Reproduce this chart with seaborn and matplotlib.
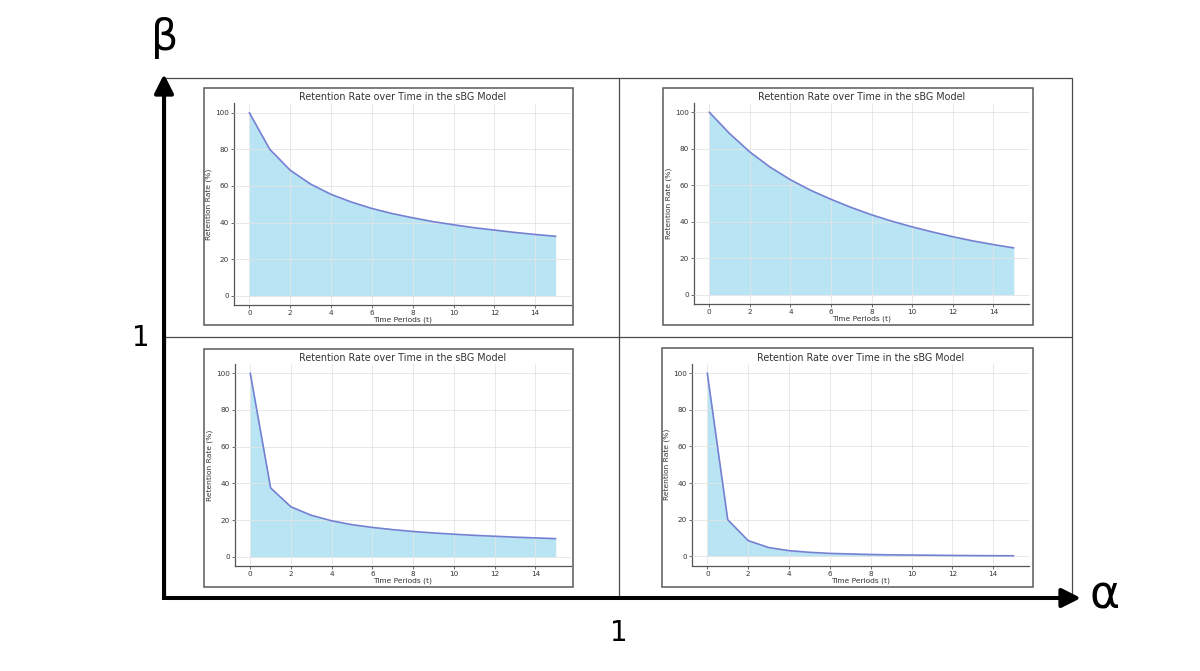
import numpy as np
import pandas as pd
import matplotlib
matplotlib.use("Agg")
import matplotlib.pyplot as plt
import seaborn as sns
from matplotlib.patches import Rectangle

# ---------------- data ----------------
periods = [0, 1, 2, 3, 4, 5, 6, 7, 8, 9, 10, 11, 12, 13, 14, 15]
retention_top_left = [100, 80.0, 68.6, 61.0, 55.4, 51.2, 47.7, 44.9, 42.6, 40.5, 38.8, 37.2, 35.9, 34.6, 33.5, 32.5]
retention_top_right = [100, 88.3, 78.2, 69.9, 63.0, 57.2, 52.3, 47.8, 43.8, 40.3, 37.2, 34.4, 31.8, 29.5, 27.5, 25.7]
retention_bottom_left = [100, 37.5, 27.2, 22.6, 19.6, 17.5, 16.0, 14.8, 13.8, 13.0, 12.3, 11.7, 11.2, 10.7, 10.3, 9.9]
retention_bottom_right = [100, 20.0, 8.6, 4.8, 3.1, 2.2, 1.6, 1.3, 1.0, 0.8, 0.7, 0.6, 0.5, 0.4, 0.35, 0.3]
x_ticks = [0, 2, 4, 6, 8, 10, 12, 14]
y_ticks = [0, 20, 40, 60, 80, 100]
panel_title = "Retention Rate over Time in the sBG Model"
x_label = "Time Periods (t)"
y_label = "Retention Rate (%)"
axis_x_name = "α"
axis_y_name = "β"
axis_mid_label = "1"

sns.set_style("whitegrid")
plt.rcParams['font.family'] = ['DejaVu Sans']

W, H = 1200, 671
fig = plt.figure(figsize=(W / 100, H / 100), dpi=100)
fig.patch.set_facecolor("white")

# background canvas in pixel coordinates
bg = fig.add_axes([0, 0, 1, 1])
bg.set_xlim(0, W)
bg.set_ylim(H, 0)
bg.axis("off")

# outer frame and dividers
frame_col = "#4a4a4a"
bg.add_patch(Rectangle((165, 78), 1072 - 165, 598 - 78, fill=False, ec=frame_col, lw=0.9))
bg.plot([619, 619], [78, 598], color=frame_col, lw=0.9)
bg.plot([165, 1072], [337, 337], color=frame_col, lw=0.9)

# arrows
arrow_kw = dict(arrowstyle='-|>', lw=2.9, color='black', mutation_scale=29,
                shrinkA=0, shrinkB=0, capstyle='butt')
bg.plot([164, 164], [599.5, 590], color='black', lw=2.9, solid_capstyle='butt')
bg.annotate('', xy=(164, 74), xytext=(164, 596), arrowprops=arrow_kw)
bg.annotate('', xy=(1081, 598), xytext=(162.5, 598), arrowprops=arrow_kw)

bg.text(165, 38, axis_y_name, fontsize=31, ha='center', va='center', color='black')
bg.text(1105, 596, axis_x_name, fontsize=33, ha='center', va='center', color='black')
bg.text(141, 338, axis_mid_label, fontsize=20, ha='center', va='center', color='black')
bg.text(619, 633, axis_mid_label, fontsize=20, ha='center', va='center', color='black')

# panel boxes (pixels: x0, y0, x1, y1)
boxes = [(204, 88, 573, 325), (663, 88, 1033, 325),
         (204, 349, 573, 587), (662, 348, 1033, 587)]
for (x0, y0, x1, y1) in boxes:
    bg.add_patch(Rectangle((x0, y0), x1 - x0, y1 - y0, fill=False, ec="#5a5a5a", lw=1.1))

# axes positions in pixels (left, top, right, bottom)
axes_px = [(234, 103.5, 571, 305), (694, 103, 1029, 304),
           (235, 364, 571, 566), (692, 364, 1029, 565.5)]
series = [retention_top_left, retention_top_right, retention_bottom_left, retention_bottom_right]

fill_col = "#b9e4f4"
line_col = "#7480d2"
spine_col = "#555555"

for (l, t, r, b), vals in zip(axes_px, series):
    ax = fig.add_axes([l / W, 1 - b / H, (r - l) / W, (b - t) / H])
    ax.set_facecolor("white")
    df = pd.DataFrame({"t": periods, "r": vals})
    ax.fill_between(df["t"], df["r"], 0, color=fill_col, lw=0, zorder=1)
    sns.lineplot(data=df, x="t", y="r", ax=ax, color=line_col, lw=1.2, zorder=3)
    ax.set_xlim(-0.75, 15.75)
    ax.set_ylim(-5, 105)
    ax.set_xticks(x_ticks)
    ax.set_yticks(y_ticks)
    ax.grid(True, color="#e4e4e4", lw=0.6, zorder=2)
    ax.set_axisbelow(False)
    for s in ["top", "right"]:
        ax.spines[s].set_visible(False)
    for s in ["left", "bottom"]:
        ax.spines[s].set_visible(True)
        ax.spines[s].set_color(spine_col)
        ax.spines[s].set_linewidth(0.9)
    ax.tick_params(axis='both', which='major', labelsize=5.2, length=2.2, width=0.6,
                   color=spine_col, labelcolor="#333333", pad=1.5, bottom=True, left=True)
    ax.set_title(panel_title, fontsize=6.9, color="#333333", pad=2.5)
    ax.set_xlabel(x_label, fontsize=5.4, color="#333333", labelpad=0.5)
    ax.set_ylabel(y_label, fontsize=5.4, color="#333333", labelpad=2)

fig.savefig("out.png", dpi=100, facecolor="white")
